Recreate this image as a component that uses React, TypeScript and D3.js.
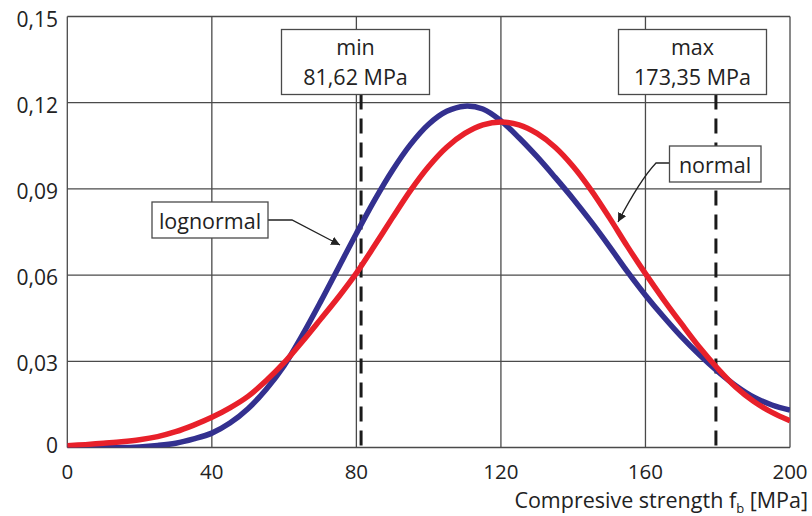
import React from "react";
import * as d3 from "d3";

const xValues = [0, 5, 10, 15, 20, 25, 30, 35, 40, 45, 50, 55, 60, 65, 70, 75, 80, 85, 90, 95, 100, 105, 110, 115, 120, 125, 130, 135, 140, 145, 150, 155, 160, 165, 170, 175, 180, 185, 190, 195, 200];
const lognormalValues = [0.0006, 0.0003, 0.0001, 0.0, 0.0002, 0.0007, 0.0015, 0.003, 0.005, 0.0085, 0.0135, 0.0202, 0.0285, 0.039, 0.0505, 0.0625, 0.0745, 0.086, 0.0965, 0.1055, 0.1125, 0.117, 0.1188, 0.1178, 0.1137, 0.1078, 0.1012, 0.094, 0.0865, 0.0785, 0.07, 0.0612, 0.053, 0.0455, 0.0385, 0.0322, 0.0265, 0.0215, 0.0175, 0.0148, 0.013];
const normalValues = [0.0006, 0.001, 0.0015, 0.002, 0.0027, 0.0038, 0.0055, 0.0078, 0.0105, 0.0138, 0.0178, 0.0232, 0.0295, 0.0368, 0.0445, 0.0523, 0.0607, 0.0702, 0.08, 0.0895, 0.0978, 0.1045, 0.1093, 0.1123, 0.1133, 0.1123, 0.1093, 0.1045, 0.0978, 0.0895, 0.08, 0.07, 0.0605, 0.0515, 0.043, 0.0348, 0.0275, 0.021, 0.016, 0.0122, 0.0093];
const xTicks = [0, 40, 80, 120, 160, 200];
const yTicks = [0, 0.03, 0.06, 0.09, 0.12, 0.15];
const yTickLabels = ["0", "0,03", "0,06", "0,09", "0,12", "0,15"];
const limitNames = ["min", "max"];
const limitLabels = ["81,62 MPa", "173,35 MPa"];
const limitPositions = [81.3, 179.5];

const W = 812;
const H = 516;
const M = { left: 67.3, right: 790, top: 16.5, bottom: 447.5 };
const FONT = "'Open Sans', sans-serif";
const BLUE = "#33308f";
const RED = "#e8202a";
const GRID = "#4a4a4a";

export default function App() {
  const x = d3.scaleLinear().domain([0, 200]).range([M.left, M.right]);
  const y = d3.scaleLinear().domain([0, 0.15]).range([M.bottom, M.top]);
  const line = d3
    .line<number>()
    .x((_, i) => x(xValues[i]))
    .y((d) => y(d))
    .curve(d3.curveCatmullRom);

  const boxW = [148, 148];
  const boxTop = 29.5;
  const boxH = 65;
  const boxCx = [355.5, 692.5];

  return (
    <svg width={W} height={H} style={{ position: "absolute", left: 0, top: 0, background: "#fff" }} fontFamily={FONT}>
      <defs>
        <clipPath id="plot">
          <rect x={M.left} y={M.top - 5} width={M.right - M.left} height={M.bottom - M.top + 5} />
        </clipPath>
        <marker id="arrow" viewBox="0 0 10 10" refX="10" refY="5" markerWidth="9" markerHeight="9" markerUnits="userSpaceOnUse" orient="auto">
          <path d="M0,0 L10,5 L0,10 z" fill="#222" />
        </marker>
      </defs>
      {/* grid */}
      {xTicks.map((t) => (
        <line key={"gx" + t} x1={x(t)} x2={x(t)} y1={M.top} y2={M.bottom} stroke={GRID} strokeWidth={1.3} />
      ))}
      {yTicks.map((t) => (
        <line key={"gy" + t} x1={M.left} x2={M.right} y1={y(t)} y2={y(t)} stroke={GRID} strokeWidth={1.3} />
      ))}
      {/* dashed limit lines */}
      {limitPositions.map((p, i) => (
        <line key={"lim" + i} x1={x(p)} x2={x(p)} y1={boxTop + boxH} y2={M.bottom + 7} stroke="#1a1a1a" strokeWidth={3} strokeDasharray="15,9" />
      ))}
      {/* curves */}
      <g clipPath="url(#plot)">
        <path d={line(lognormalValues) || ""} fill="none" stroke={BLUE} strokeWidth={5.5} />
        <path d={line(normalValues) || ""} fill="none" stroke={RED} strokeWidth={5.5} />
      </g>
      {/* limit boxes */}
      {limitNames.map((n, i) => (
        <g key={"box" + i}>
          <rect x={boxCx[i] - boxW[i] / 2} y={boxTop} width={boxW[i]} height={boxH} fill="#fff" stroke={GRID} strokeWidth={1.3} />
          <text x={boxCx[i]} y={boxTop + 17} textAnchor="middle" dominantBaseline="central" fontSize={21.5} fill="#222">{n}</text>
          <text x={boxCx[i]} y={boxTop + 47} textAnchor="middle" dominantBaseline="central" fontSize={21.5} fill="#222">{limitLabels[i]}</text>
        </g>
      ))}
      {/* legend annotations */}
      <path d="M268,220 L292,220 L340,245" fill="none" stroke="#222" strokeWidth={1.3} markerEnd="url(#arrow)" />
      <rect x={152} y={202} width={116} height={36} fill="#fff" stroke={GRID} strokeWidth={1.3} />
      <text x={210} y={220} textAnchor="middle" dominantBaseline="central" fontSize={21.5} fill="#222">lognormal</text>
      <path d="M669,163 L656,163 Q640,180 618,222" fill="none" stroke="#222" strokeWidth={1.3} markerEnd="url(#arrow)" />
      <rect x={669.5} y={146} width={91.5} height={36} fill="#fff" stroke={GRID} strokeWidth={1.3} />
      <text x={715} y={164} textAnchor="middle" dominantBaseline="central" fontSize={21.5} fill="#222">normal</text>
      {/* tick labels */}
      {xTicks.map((t) => (
        <text key={"tx" + t} x={x(t)} y={471} textAnchor="middle" dominantBaseline="central" fontSize={20.5} fill="#222">{t}</text>
      ))}
      {yTicks.map((t, i) => (
        <text key={"ty" + t} x={58} y={y(t)} dy={t === 0 ? -3 : 2} textAnchor="end" dominantBaseline="central" fontSize={21} fill="#222">{yTickLabels[i]}</text>
      ))}
      <text x={808} y={508} textAnchor="end" fontSize={21.5} fill="#222">
        Compresive strength f<tspan fontSize={13} dy={5}>b</tspan><tspan dy={-5}> [MPa]</tspan>
      </text>
    </svg>
  );
}
